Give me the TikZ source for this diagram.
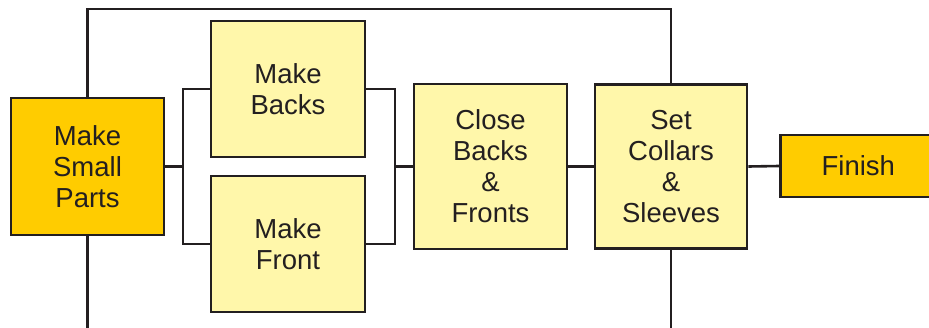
\documentclass[tikz,border=0pt]{standalone}
\usepackage{fontspec}
\setmainfont{Liberation Sans}
\definecolor{darkyel}{RGB}{255,204,0}
\definecolor{lightyel}{RGB}{255,247,170}
\definecolor{edge}{RGB}{35,31,32}
\begin{document}
\begin{tikzpicture}[x=1pt,y=-1pt,
  box/.style={draw=edge,line width=2.6pt,align=center,inner sep=0pt,
    font=\fontsize{27.5}{31}\selectfont,text=edge},
  dbox/.style={box,fill=darkyel},
  lbox/.style={box,fill=lightyel},
  conn/.style={draw=edge,line width=2.6pt}]
\useasboundingbox (0,0) rectangle (929,327);
\node[dbox,minimum width=153pt,minimum height=137pt] (msp) at (87.5,166.5) {Make\\Small\\Parts};
\node[lbox,minimum width=154pt,minimum height=136pt] (mb) at (288,89) {Make\\Backs};
\node[lbox,minimum width=154pt,minimum height=136pt] (mf) at (288,244) {Make\\Front};
\node[lbox,minimum width=153pt,minimum height=165pt] (cbf) at (490.5,166.5) {Close\\Backs\\\&\\Fronts};
\node[lbox,minimum width=152pt,minimum height=164pt] (scs) at (671,166.5) {Set\\Collars\\\&\\Sleeves};
\node[dbox,minimum width=170pt,minimum height=62pt,anchor=west] (fin) at (779,166) {Finish\hspace*{14pt}};
\coordinate (top) at (0,9);
\coordinate (bot) at (0,335);
\coordinate (lb) at (183,166.5);
\coordinate (rb) at (395,166.5);
\draw[conn] (msp.north) -- (msp.north |- top) -| (scs.north);
\draw[conn] (msp.south) -- (msp.south |- bot);
\draw[conn] (scs.south) -- (scs.south |- bot);
\draw[conn] (msp.east) -- (lb);
\draw[conn] (mb.west) -| (lb) |- (mf.west);
\draw[conn] (mb.east) -| (rb) |- (mf.east);
\draw[conn] (rb) -- (cbf.west);
\draw[conn] (cbf.east) -- (scs.west);
\draw[conn] (scs.east) -- (fin.west);
\end{tikzpicture}
\end{document}
